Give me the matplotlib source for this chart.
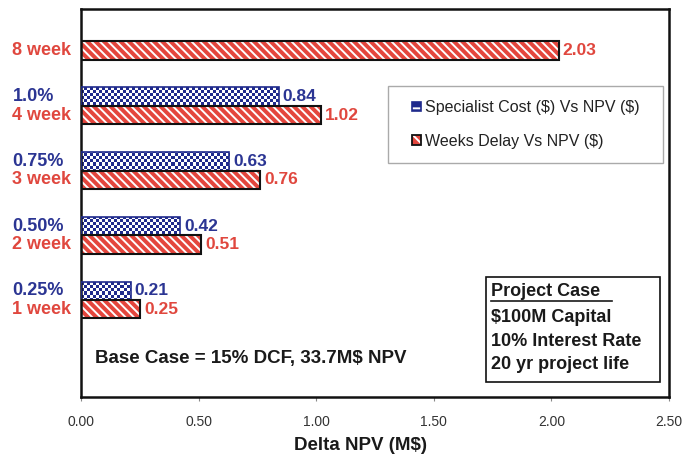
import numpy as np
import matplotlib
matplotlib.use('Agg')
import matplotlib.pyplot as plt
from matplotlib.colors import ListedColormap
from matplotlib.patches import Rectangle

plt.rcParams['font.family'] = ['Liberation Sans', 'DejaVu Sans']
plt.rcParams['text.parse_math'] = False
plt.rcParams['hatch.color'] = 'white'
plt.rcParams['hatch.linewidth'] = 1.4

# 数据 (自下而上, 最下面一格为空)
spec_labels = ['', '0.25%', '0.50%', '0.75%', '1.0%', '']
week_labels = ['', '1 week', '2 week', '3 week', '4 week', '8 week']
spec_npv = [np.nan, 0.21, 0.42, 0.63, 0.84, np.nan]
week_npv = [np.nan, 0.25, 0.51, 0.76, 1.02, 2.03]
x_ticks = [0.0, 0.5, 1.0, 1.5, 2.0, 2.5]
legend_labels = ['Specialist Cost ($) Vs NPV ($)', 'Weeks Delay Vs NPV ($)']
project_lines = ['Project Case', '$100M Capital', '10% Interest Rate', '20 yr project life']
base_case = 'Base Case = 15% DCF, 33.7M$ NPV'

COLORS = {
    'blue': '#1f2a8c',
    'blue_text': '#2b3593',
    'red': '#e4463d',
    'red_text': '#e0473e',
    'edge': '#111111',
}

fig = plt.figure(figsize=(6.82, 4.59), dpi=100)
ax = fig.add_axes([0.119, 0.135, 0.862, 0.846])

pos = np.arange(len(week_labels))
bh = 0.285
spec = np.array(spec_npv)
week = np.array(week_npv)
ms = ~np.isnan(spec)
mw = ~np.isnan(week)

# ---- 蓝色棋盘格 ----
blue_bars = ax.barh(pos[ms] + bh / 2, spec[ms], height=bh, color=COLORS['blue'],
                    linewidth=0, zorder=2)
nx, ny = 196, 129
checker = np.indices((ny, nx)).sum(axis=0) % 2
cmap = ListedColormap(['white', COLORS['blue']])
for bar in blue_bars:
    im = ax.imshow(checker, cmap=cmap, extent=(0, 2.5, -0.5, 5.5), aspect='auto',
                   interpolation='nearest', zorder=2.5)
    im.set_clip_path(bar)
blue_edge = ax.barh(pos[ms] + bh / 2, spec[ms], height=bh, fill=False,
                    edgecolor=COLORS['blue'], linewidth=1.2, zorder=3)

# ---- 红色斜线 ----
red_fill = ax.barh(pos[mw] - bh / 2, week[mw], height=bh, color=COLORS['red'],
                   hatch='\\\\\\\\', linewidth=0, zorder=2)
red_edge = ax.barh(pos[mw] - bh / 2, week[mw], height=bh, fill=False,
                   edgecolor=COLORS['edge'], linewidth=1.5, zorder=3)

ax.bar_label(blue_edge, fmt='%.2f', padding=3, color=COLORS['blue_text'],
             fontsize=12.5, fontweight='bold')
ax.bar_label(red_edge, fmt='%.2f', padding=3, color=COLORS['red_text'],
             fontsize=12.5, fontweight='bold')

ax.set_xlim(0, 2.5)
ax.set_ylim(-0.5, 5.5)

# ---- Y 轴双色标签 ----
ax.set_yticks([])
ytr = ax.get_yaxis_transform()
for p, s, w in zip(pos, spec_labels, week_labels):
    if s:
        ax.text(-0.117, p + bh / 2, s, transform=ytr, ha='left', va='center',
                fontsize=13, fontweight='bold', color=COLORS['blue_text'])
    if w:
        ax.text(-0.117, p - bh / 2, w, transform=ytr, ha='left', va='center',
                fontsize=13, fontweight='bold', color=COLORS['red_text'])

# ---- X 轴 ----
ax.set_xticks(x_ticks)
ax.set_xticklabels([f'{t:.2f}' for t in x_ticks])
ax.tick_params(axis='x', direction='out', length=3, width=0.8, color='#888888',
               pad=10, labelsize=10, labelcolor='#333333')
ax.set_xlabel('Delta NPV (M$)', fontsize=13.5, fontweight='bold', color='#1a1a1a')
ax.xaxis.label.set_va('center')
ax.xaxis.set_label_coords(0.4745, -0.124)

for sp in ax.spines.values():
    sp.set_linewidth(1.8)
    sp.set_color('#111111')

# ---- 图例 ----
ax.add_patch(Rectangle((0.522, 0.603), 0.468, 0.198, transform=ax.transAxes,
                       fill=False, edgecolor='#aaaaaa', linewidth=1.0, zorder=4))
h_blue = Rectangle((0, 0), 1, 1, facecolor=COLORS['blue'], hatch='+',
                   edgecolor=None, linewidth=0)
h_blue_e = Rectangle((0, 0), 1, 1, fill=False, edgecolor=COLORS['blue'], linewidth=1.2)
h_red = Rectangle((0, 0), 1, 1, facecolor=COLORS['red'], hatch='\\\\\\', linewidth=0)
h_red_e = Rectangle((0, 0), 1, 1, fill=False, edgecolor=COLORS['edge'], linewidth=1.3)
ax.legend([(h_blue, h_blue_e), (h_red, h_red_e)], legend_labels,
          loc='center', bbox_to_anchor=(0.756, 0.702), frameon=False,
          fontsize=11.5, borderpad=0, handlelength=0.55, handleheight=0.55,
          handletextpad=0.25, labelspacing=1.15, labelcolor='#222222')

# ---- 文本框 ----
ax.text(0.024, 0.1005, base_case, transform=ax.transAxes, ha='left', va='center',
        fontsize=13.5, fontweight='bold', color='#1a1a1a')

ax.add_patch(Rectangle((0.689, 0.0387), 0.296, 0.2703, transform=ax.transAxes,
                       fill=False, edgecolor='#111111', linewidth=1.2, zorder=4))
line_y = [0.271, 0.206, 0.142, 0.0825]
for txt, yy in zip(project_lines, line_y):
    ax.text(0.697, yy, txt, transform=ax.transAxes, ha='left', va='center',
            fontsize=13, fontweight='bold', color='#1a1a1a')
ax.plot([0.697, 0.903], [0.248, 0.248], transform=ax.transAxes,
        color='#1a1a1a', linewidth=1.2)

fig.savefig('out.png', dpi=100)
